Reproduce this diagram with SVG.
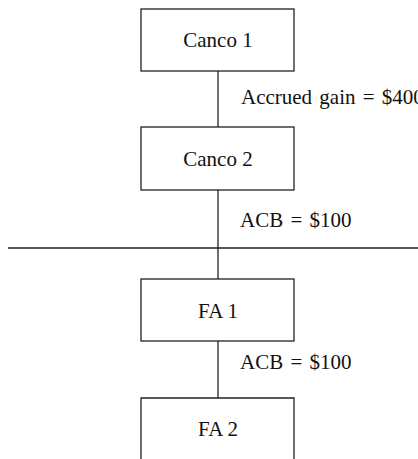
<svg xmlns="http://www.w3.org/2000/svg" width="418" height="459" viewBox="0 0 418 459">
<style>
.box{fill:#fff;stroke:#222;stroke-width:1.3}
.ln{stroke:#222;stroke-width:1.3;fill:none}
text{font-family:"Liberation Serif","Times New Roman","DejaVu Serif",serif;font-size:21px;fill:#111}
.c{text-anchor:middle}
.eq{word-spacing:2px}
</style>
<rect width="418" height="459" fill="#fff"/>
<g id="connectors">
<line class="ln" x1="218" y1="71" x2="218" y2="127"/>
<line class="ln" x1="218" y1="190" x2="218" y2="279"/>
<line class="ln" x1="218" y1="341" x2="218" y2="398"/>
<line class="ln" x1="8" y1="248" x2="418" y2="248"/>
<text class="eq" x="241" y="104">Accrued gain = $400</text>
<text class="eq" x="240" y="227">ACB = $100</text>
<text class="eq" x="240" y="369">ACB = $100</text>
</g>
<g id="canco1"><rect class="box" x="141" y="9" width="153" height="62"/><text class="c" x="218" y="47">Canco 1</text></g>
<g id="canco2"><rect class="box" x="141" y="127" width="153" height="63"/><text class="c" x="218" y="166">Canco 2</text></g>
<g id="fa1"><rect class="box" x="141" y="279" width="153" height="62"/><text class="c" x="218" y="318">FA 1</text></g>
<g id="fa2"><path class="ln" d="M141,462 V398 H294 V462"/><text class="c" x="218" y="436">FA 2</text></g>
</svg>
